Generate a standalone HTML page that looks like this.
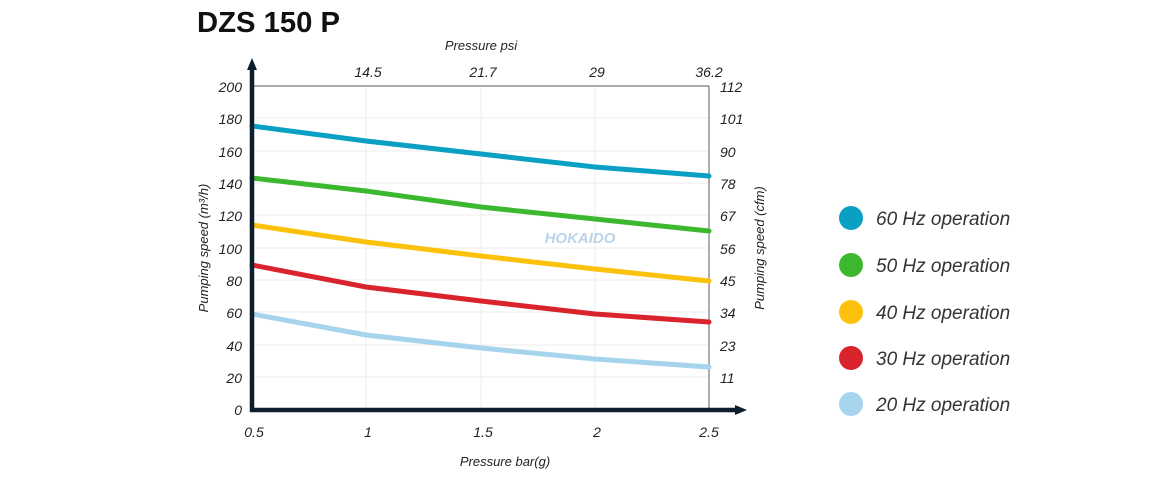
<!DOCTYPE html>
<html><head><meta charset="utf-8"><style>
body{margin:0;background:#fff;}
svg{display:block;font-family:"Liberation Sans",sans-serif;}
</style></head><body>
<svg width="1160" height="480" viewBox="0 0 1160 480">
<text x="197" y="32" font-size="29" font-weight="bold" fill="#111" textLength="143" lengthAdjust="spacingAndGlyphs">DZS 150 P</text>
<text x="481" y="50" font-size="13" font-style="italic" text-anchor="middle" fill="#222">Pressure psi</text>
<g stroke="#eee" stroke-width="1">
<line x1="252" y1="118" x2="709" y2="118"/><line x1="252" y1="151" x2="709" y2="151"/>
<line x1="252" y1="183" x2="709" y2="183"/><line x1="252" y1="215" x2="709" y2="215"/>
<line x1="252" y1="248" x2="709" y2="248"/><line x1="252" y1="280" x2="709" y2="280"/>
<line x1="252" y1="312" x2="709" y2="312"/><line x1="252" y1="345" x2="709" y2="345"/>
<line x1="252" y1="377" x2="709" y2="377"/>
<line x1="366" y1="86" x2="366" y2="410"/><line x1="481" y1="86" x2="481" y2="410"/><line x1="595" y1="86" x2="595" y2="410"/>
</g>
<line x1="252" y1="86" x2="709" y2="86" stroke="#777" stroke-width="1.2"/>
<line x1="709" y1="86" x2="709" y2="410" stroke="#777" stroke-width="1.2"/>
<text x="580" y="243" font-size="15" font-weight="bold" font-style="italic" text-anchor="middle" fill="#bcd3ea">HOKAIDO</text>
<g fill="none" stroke-width="5" stroke-linecap="round">
<polyline stroke="#0aa0c4" points="252,126 366,141 481,154 595,167 709,176"/>
<polyline stroke="#3cb82e" points="252,178 366,191 481,207 595,219 709,231"/>
<polyline stroke="#fcc10a" points="252,225 366,242 481,256 595,269 709,281"/>
<polyline stroke="#d9232d" points="252,265 366,287 481,301 595,314 709,322"/>
<polyline stroke="#a6d4ec" points="252,314 366,335 481,348 595,359 709,367"/>
</g>
<line x1="252" y1="412" x2="252" y2="66" stroke="#0d1f2d" stroke-width="4.5"/>
<polygon points="252,58 247,70 257,70" fill="#0d1f2d"/>
<line x1="250" y1="410" x2="738" y2="410" stroke="#0d1f2d" stroke-width="4.5"/>
<polygon points="747,410 735,405 735,415" fill="#0d1f2d"/>
<g font-size="14" font-style="italic" fill="#222" text-anchor="end">
<text x="242" y="92">200</text><text x="242" y="124">180</text><text x="242" y="157">160</text>
<text x="242" y="189">140</text><text x="242" y="221">120</text><text x="242" y="254">100</text>
<text x="242" y="286">80</text><text x="242" y="318">60</text><text x="242" y="351">40</text>
<text x="242" y="383">20</text><text x="242" y="415">0</text>
</g>
<g font-size="14" font-style="italic" fill="#222">
<text x="720" y="92">112</text><text x="720" y="124">101</text><text x="720" y="157">90</text>
<text x="720" y="189">78</text><text x="720" y="221">67</text><text x="720" y="254">56</text>
<text x="720" y="286">45</text><text x="720" y="318">34</text><text x="720" y="351">23</text>
<text x="720" y="383">11</text>
</g>
<g font-size="14" font-style="italic" fill="#222" text-anchor="middle">
<text x="368" y="77">14.5</text><text x="483" y="77">21.7</text><text x="597" y="77">29</text><text x="709" y="77">36.2</text>
<text x="254" y="437">0.5</text><text x="368" y="437">1</text><text x="483" y="437">1.5</text><text x="597" y="437">2</text><text x="709" y="437">2.5</text>
</g>
<text x="505" y="466" font-size="13" font-style="italic" text-anchor="middle" fill="#222">Pressure bar(g)</text>
<text transform="translate(208,248) rotate(-90)" font-size="13" font-style="italic" text-anchor="middle" fill="#222">Pumping speed (m³/h)</text>
<text transform="translate(764,248) rotate(-90)" font-size="13" font-style="italic" text-anchor="middle" fill="#222">Pumping speed (cfm)</text>
<g font-size="19" font-style="italic" fill="#333">
<circle cx="851" cy="218" r="12" fill="#0aa0c4"/><text x="876" y="225">60 Hz operation</text>
<circle cx="851" cy="265" r="12" fill="#3cb82e"/><text x="876" y="272">50 Hz operation</text>
<circle cx="851" cy="312" r="12" fill="#fcc10a"/><text x="876" y="319">40 Hz operation</text>
<circle cx="851" cy="358" r="12" fill="#d9232d"/><text x="876" y="365">30 Hz operation</text>
<circle cx="851" cy="404" r="12" fill="#a6d4ec"/><text x="876" y="411">20 Hz operation</text>
</g>
</svg>
</body></html>
